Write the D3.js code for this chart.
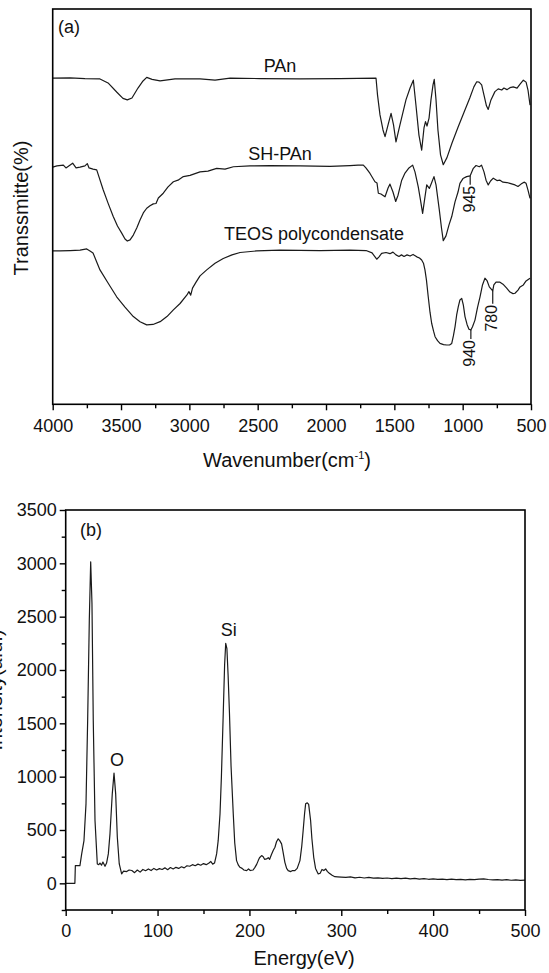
<!DOCTYPE html>
<html lang="en">
<head>
<meta charset="UTF-8">
<title>FTIR and EDS</title>
<script src="https://cdnjs.cloudflare.com/ajax/libs/d3/7.8.5/d3.min.js"></script>
<style>
  body { margin: 0; background: #fff; }
  svg text { font-family: "Liberation Sans", Arial, sans-serif; fill: #111; }
</style>
</head>
<body>
<svg id="chart" width="549" height="973"></svg>
<script>
// ---- panel (a): FTIR, [wavenumber, transmittance (offset, a.u.)]
var pan = [[4000,82.5],[3873,82.6],[3764,82.4],[3654,82.3],[3595,81.3],[3532,79.0],[3486,77.4],[3454,77.0],
  [3420,77.5],[3376,80.0],[3339,81.8],[3312,82.7],[3273,82.2],[3214,81.8],[3105,82.3],[2922,82.3],[2812,82.0],
  [2702,82.5],[2483,82.4],[2190,82.3],[1898,82.4],[1634,82.5],[1623,78.2],[1605,73.2],[1583,69.4],[1568,67.7],
  [1546,70.7],[1524,73.6],[1506,70.7],[1488,66.4],[1459,70.7],[1415,77.0],[1385,80.0],[1361,82.0],[1342,75.7],
  [1320,68.1],[1300,64.3],[1283,69.9],[1272,71.5],[1261,70.4],[1246,72.4],[1232,77.0],[1217,80.8],[1208,82.2],
  [1195,77.0],[1181,69.4],[1162,63.1],[1142,60.6],[1115,62.4],[1078,66.1],[1034,70.1],[990,73.9],[948,77.5],
  [918,80.3],[897,81.6],[880,81.5],[861,80.8],[844,78.2],[826,75.5],[813,74.6],[793,77.0],[764,79.1],[740,79.8],
  [714,79.5],[698,80.0],[676,79.6],[654,80.1],[630,80.3],[602,80.0],[580,81.0],[556,82.0],[536,81.5],[522,79.5],[507,75.7]];

var shPan = [[4000,60.0],[3969,60.3],[3922,60.5],[3903,59.8],[3854,61.0],[3829,59.8],[3800,60.0],[3764,60.3],
  [3747,60.9],[3734,59.8],[3705,59.5],[3678,59.3],[3630,54.2],[3595,50.9],[3557,47.5],[3526,45.1],[3495,43.3],
  [3471,41.8],[3454,41.3],[3434,41.6],[3410,42.8],[3385,44.6],[3361,46.6],[3337,48.4],[3312,49.6],[3288,50.2],
  [3264,50.7],[3244,50.8],[3227,52.2],[3191,53.4],[3156,55.0],[3117,56.3],[3083,56.7],[3044,57.6],[2995,57.9],
  [2922,58.8],[2864,59.0],[2800,59.7],[2739,59.5],[2678,60.1],[2556,60.3],[2410,60.4],[2190,60.3],[1971,60.2],
  [1825,60.4],[1766,60.5],[1727,60.5],[1708,59.8],[1678,58.4],[1642,56.3],[1627,56.0],[1617,53.4],[1598,53.2],
  [1568,52.5],[1546,54.7],[1532,55.7],[1510,53.7],[1490,51.3],[1473,52.9],[1446,56.7],[1422,58.5],[1393,59.8],
  [1366,60.5],[1349,58.8],[1325,55.0],[1309,51.7],[1293,48.3],[1279,51.7],[1263,55.5],[1244,54.6],[1228,56.0],
  [1210,57.6],[1195,55.5],[1171,49.2],[1155,44.6],[1142,41.4],[1122,42.6],[1100,45.4],[1080,47.5],[1056,51.2],
  [1034,53.7],[1020,55.9],[998,57.1],[971,57.6],[945,57.8],[922,59.7],[902,60.4],[878,60.1],[862,60.5],[844,58.8],
  [829,56.7],[813,55.5],[796,56.5],[776,57.2],[749,56.6],[727,56.7],[705,56.2],[676,56.1],[654,55.9],[617,55.5],
  [595,55.1],[573,55.7],[551,56.2],[536,55.9],[522,54.2],[507,52.1]];

var teos = [[4000,38.8],[3947,38.8],[3873,38.9],[3800,39.0],[3751,39.3],[3727,38.8],[3705,38.3],[3678,36.0],
  [3654,34.0],[3595,30.7],[3532,27.2],[3471,24.6],[3410,22.2],[3361,20.9],[3312,20.1],[3266,20.2],[3214,20.9],
  [3164,22.2],[3117,23.9],[3068,25.5],[3019,27.6],[3003,28.5],[2990,27.6],[2977,29.4],[2951,30.9],[2922,32.5],
  [2873,34.0],[2812,35.7],[2752,36.9],[2688,37.8],[2629,38.4],[2507,38.8],[2337,39.0],[2044,38.9],[1825,39.0],
  [1707,38.9],[1663,38.3],[1629,36.7],[1612,37.3],[1593,38.2],[1561,38.4],[1532,38.1],[1510,38.5],[1488,37.8],
  [1466,37.4],[1448,37.8],[1429,37.4],[1407,37.8],[1385,37.5],[1363,37.9],[1336,37.3],[1316,37.0],[1300,36.5],
  [1287,35.7],[1276,34.0],[1265,31.4],[1252,27.2],[1239,23.3],[1227,20.5],[1213,18.5],[1202,17.1],[1184,16.1],
  [1166,15.4],[1140,15.1],[1117,15.0],[1096,15.0],[1080,15.4],[1068,17.3],[1056,19.6],[1044,22.6],[1032,24.7],
  [1020,26.4],[1007,26.8],[995,25.1],[983,22.2],[968,20.2],[954,19.0],[940,18.8],[928,19.6],[910,21.3],[892,24.4],
  [873,27.2],[855,30.2],[837,31.9],[822,31.3],[805,29.7],[780,28.7],[772,30.2],[756,30.9],[727,30.9],[705,30.4],
  [678,29.4],[654,28.4],[632,28.0],[617,28.1],[595,28.9],[580,29.7],[556,30.2],[536,31.2],[507,31.9]];

var irSeries = [
  { name: "PAn", data: pan, lx: 280, ly: 71.5 },
  { name: "SH-PAn", data: shPan, lx: 280, ly: 160 },
  { name: "TEOS polycondensate", data: teos, lx: 314, ly: 240 }
];
// band markers: [wavenumber, transmittance at band, leader length]
var irMarks = [["945", 945, 57.8, 9], ["940", 940, 18.8, 9], ["780", 780, 28.7, 13]];
var irTicks = [4000, 3500, 3000, 2500, 2000, 1500, 1000, 500];

// ---- panel (b): EDS, [energy eV, counts]
var eds = [[0,0],[10,0],[10.5,166],[15.5,166],[17.4,276],[19.9,401],[22.1,745],[23.9,1528],[25.7,2466],[27.2,3014],
  [28.6,2623],[30,1528],[31.9,589],[34.4,182],[36,175],[37.3,190],[39,170],[40.5,200],[42.8,160],[44.5,190],
  [46.4,276],[48.2,464],[50.7,839],[52.6,1033],[54.4,839],[56.2,432],[58.3,182],[60.9,88],[63,115],[66.4,110],
  [69,125],[72,120],[75,100],[78,125],[81,105],[84,130],[87,118],[90,135],[93,120],[96,140],[99,125],[102,138],
  [105,130],[108,145],[111,128],[114,148],[117,135],[120,150],[123,140],[126,155],[129,145],[132,165],[135,160],
  [138,175],[141,165],[144,180],[147,170],[150,185],[153,175],[156,190],[158,205],[160,180],[162,190],[164.3,276],
  [166,400],[168,652],[169.5,1000],[171.5,1590],[173,2050],[174.2,2250],[175.5,2200],[176.8,1950],[178.3,1590],
  [180,1100],[182.4,652],[184,380],[186,213],[188,170],[189.7,150],[192,140],[194,125],[197,119],[199,135],
  [201,120],[204,125],[206,150],[208,180],[209.6,213],[211,240],[213.3,260],[215,250],[216.5,225],[218.7,229],
  [220.5,240],[222,225],[224,270],[226,310],[227.8,338],[229.5,390],[231.3,417],[233,400],[235,370],[236.5,300],
  [238.6,197],[240.5,140],[242.2,119],[245,110],[247,120],[249.5,119],[252,140],[255,213],[257,350],[258.5,495],
  [260,650],[261.2,745],[263,755],[264.5,740],[266.6,589],[268,420],[270,244],[272,140],[274.9,88],[277,95],
  [279,130],[281,120],[283,135],[285,110],[287,95],[290,75],[293,62],[296,60],[300,58],[305,55],[310,60],
  [315,52],[320,57],[325,50],[330,55],[335,48],[340,52],[345,47],[350,50],[355,45],[360,49],[365,44],[370,48],
  [375,42],[380,46],[385,40],[390,44],[395,38],[400,42],[405,37],[410,40],[415,35],[420,39],[425,34],[430,38],
  [435,33],[440,37],[445,35],[450,40],[455,42],[460,36],[465,33],[470,35],[475,30],[480,34],[485,29],[490,33],
  [495,28],[500,31]];
var edsPeaks = [["O", 52.6, 1033], ["Si", 174.2, 2250]];
var edsXTicks = [0, 100, 200, 300, 400, 500];
var edsYTicks = [0, 500, 1000, 1500, 2000, 2500, 3000, 3500];

var svg = d3.select("#chart");
var ink = "#1a1a1a";

function frame(x, y) {
  var x0 = d3.min(x.range()), x1 = d3.max(x.range());
  svg.append("rect")
    .attr("x", x0).attr("y", y.range()[1])
    .attr("width", x1 - x0).attr("height", y.range()[0] - y.range()[1])
    .attr("fill", "none").attr("stroke", "#000").attr("stroke-width", 1.6);
}

function styleAxis(g) {
  g.select(".domain").remove();
  g.selectAll("line").attr("stroke", "#000").attr("stroke-width", 1.4);
  g.selectAll("text").style("font-size", "18px").attr("fill", "#111");
}

// ================= panel (a)
var xa = d3.scaleLinear().domain([4000, 500]).range([52.7, 531]);
var ya = d3.scaleLinear().domain([0, 100]).range([404.3, 9]);

svg.append("g").attr("transform", "translate(0," + ya(0) + ")")
  .call(d3.axisBottom(xa).tickValues(d3.range(3750, 500, -500)).tickSize(4).tickFormat(""))
  .call(styleAxis);
svg.append("g").attr("transform", "translate(0," + ya(0) + ")")
  .call(d3.axisBottom(xa).tickValues(irTicks).tickSize(6).tickPadding(9).tickFormat(d3.format("d")))
  .call(styleAxis);

var lineA = d3.line().x(function(d) { return xa(d[0]); }).y(function(d) { return ya(d[1]); });
irSeries.forEach(function(s) {
  svg.append("path").datum(s.data).attr("d", lineA)
    .attr("fill", "none").attr("stroke", ink).attr("stroke-width", 1.2).attr("stroke-linejoin", "round");
  svg.append("text").attr("x", s.lx).attr("y", s.ly).attr("text-anchor", "middle")
    .style("font-size", "18px").text(s.name);
});

irMarks.forEach(function(m) {
  var px = xa(m[1]), py = ya(m[2]);
  svg.append("line").attr("x1", px).attr("x2", px).attr("y1", py).attr("y2", py + m[3])
    .attr("stroke", ink).attr("stroke-width", 1.2);
  svg.append("text").attr("transform", "translate(" + (px + 4.5) + "," + (py + m[3] + 1) + ") rotate(-90)")
    .attr("text-anchor", "end").style("font-size", "16px").text(m[0]);
});

frame(xa, ya);

svg.append("text").attr("x", 58).attr("y", 33).style("font-size", "18px").text("(a)");
var wt = svg.append("text").attr("x", 287).attr("y", 467).attr("text-anchor", "middle").style("font-size", "20px");
wt.append("tspan").text("Wavenumber(cm");
wt.append("tspan").attr("dy", -8).style("font-size", "11px").text("-1");
wt.append("tspan").attr("dy", 8).text(")");
svg.append("text").attr("transform", "translate(27.5,208) rotate(-90)")
  .attr("text-anchor", "middle").style("font-size", "20px").text("Transsmitte(%)");

// ================= panel (b)
var xb = d3.scaleLinear().domain([0, 500]).range([65.7, 525]);
var yb = d3.scaleLinear().domain([-250, 3500]).range([910, 510]);

svg.append("g").attr("transform", "translate(0," + yb(-250) + ")")
  .call(d3.axisBottom(xb).tickValues(d3.range(50, 500, 100)).tickSize(4).tickFormat(""))
  .call(styleAxis);
svg.append("g").attr("transform", "translate(0," + yb(-250) + ")")
  .call(d3.axisBottom(xb).tickValues(edsXTicks).tickSize(6).tickPadding(8).tickFormat(d3.format("d")))
  .call(styleAxis);
svg.append("g").attr("transform", "translate(" + xb(0) + ",0)")
  .call(d3.axisLeft(yb).tickValues(d3.range(-250, 3500, 500)).tickSize(4).tickFormat(""))
  .call(styleAxis);
svg.append("g").attr("transform", "translate(" + xb(0) + ",0)")
  .call(d3.axisLeft(yb).tickValues(edsYTicks).tickSize(6).tickPadding(3).tickFormat(d3.format("d")))
  .call(styleAxis);

var lineB = d3.line().x(function(d) { return xb(d[0]); }).y(function(d) { return yb(d[1]); });
svg.append("path").datum(eds).attr("d", lineB)
  .attr("fill", "none").attr("stroke", ink).attr("stroke-width", 1.2).attr("stroke-linejoin", "round");

edsPeaks.forEach(function(p) {
  svg.append("text").attr("x", xb(p[1]) + (p[0] === "O" ? 3 : 3)).attr("y", yb(p[2]) - 7)
    .attr("text-anchor", "middle").style("font-size", "18px").text(p[0]);
});

frame(xb, yb);

svg.append("text").attr("x", 80).attr("y", 536).style("font-size", "18px").text("(b)");
svg.append("text").attr("x", 304).attr("y", 965).attr("text-anchor", "middle")
  .style("font-size", "20px").text("Energy(eV)");
svg.append("text").attr("transform", "translate(2,690) rotate(-90)")
  .attr("text-anchor", "middle").style("font-size", "20px").text("Intensity(a.u.)");
</script>
</body>
</html>
